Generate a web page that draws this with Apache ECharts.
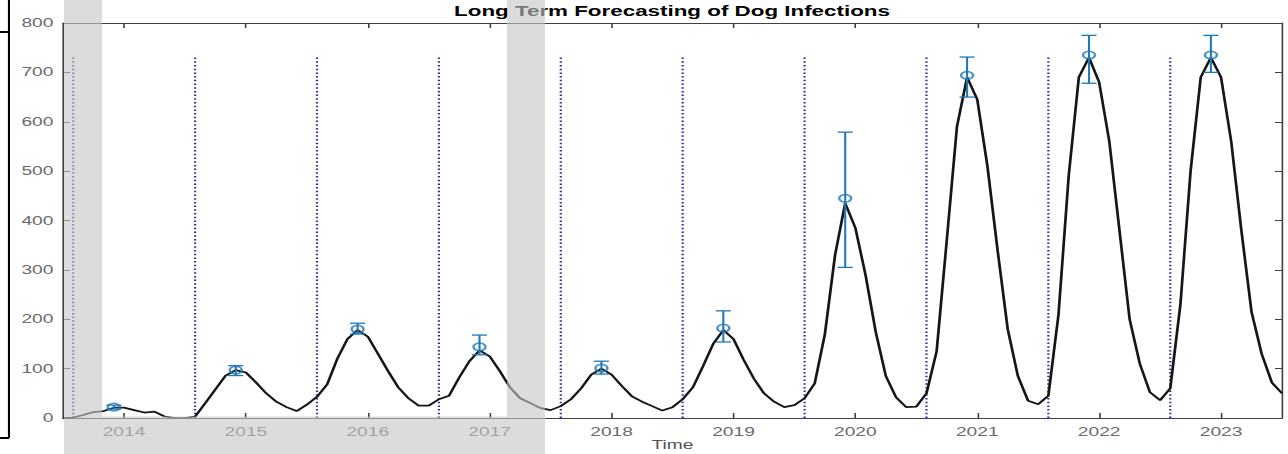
<!DOCTYPE html>
<html>
<head>
<meta charset="utf-8">
<script src="https://cdn.jsdelivr.net/npm/echarts@6/dist/echarts.min.js"></script>
<style>
  html, body { margin: 0; padding: 0; background: #fff; overflow: hidden; }
  /* the figure is laid out narrow and widened horizontally */
  #chart { width: 805px; height: 454px; transform: scaleX(1.6); transform-origin: 0 0; }
</style>
</head>
<body>
<div id="chart"></div>
<script>
// Monthly reported/forecast dog infections
const months = [
  '2013-07','2013-08','2013-09','2013-10','2013-11','2013-12',
  '2014-01','2014-02','2014-03','2014-04','2014-05','2014-06','2014-07','2014-08','2014-09','2014-10','2014-11','2014-12',
  '2015-01','2015-02','2015-03','2015-04','2015-05','2015-06','2015-07','2015-08','2015-09','2015-10','2015-11','2015-12',
  '2016-01','2016-02','2016-03','2016-04','2016-05','2016-06','2016-07','2016-08','2016-09','2016-10','2016-11','2016-12',
  '2017-01','2017-02','2017-03','2017-04','2017-05','2017-06','2017-07','2017-08','2017-09','2017-10','2017-11','2017-12',
  '2018-01','2018-02','2018-03','2018-04','2018-05','2018-06','2018-07','2018-08','2018-09','2018-10','2018-11','2018-12',
  '2019-01','2019-02','2019-03','2019-04','2019-05','2019-06','2019-07','2019-08','2019-09','2019-10','2019-11','2019-12',
  '2020-01','2020-02','2020-03','2020-04','2020-05','2020-06','2020-07','2020-08','2020-09','2020-10','2020-11','2020-12',
  '2021-01','2021-02','2021-03','2021-04','2021-05','2021-06','2021-07','2021-08','2021-09','2021-10','2021-11','2021-12',
  '2022-01','2022-02','2022-03','2022-04','2022-05','2022-06','2022-07','2022-08','2022-09','2022-10','2022-11','2022-12',
  '2023-01','2023-02','2023-03','2023-04','2023-05','2023-06','2023-07'
];
const cases = [
  0, 1, 6, 12, 14, 21,
  21, 16, 11, 13, 3, 0, 0, 3, 30, 58, 86, 97,
  92, 72, 50, 33, 22, 14, 27, 43, 68, 120, 160, 178,
  165, 130, 95, 62, 40, 25, 25, 38, 45, 82, 115, 137,
  125, 95, 62, 40, 30, 20, 16, 24, 38, 60, 88, 100,
  88, 65, 44, 33, 24, 15, 22, 38, 62, 105, 150, 178,
  160, 118, 80, 50, 33, 22, 26, 40, 70, 170, 330, 435,
  385, 290, 175, 85, 42, 22, 23, 50, 135, 360, 590, 690,
  645, 510, 340, 180, 85, 35, 28, 45, 210, 490, 690, 730,
  680, 560, 380, 200, 110, 52, 36, 60, 230, 500, 690, 730,
  690, 560, 380, 215, 130, 72, 50
];

// Seasonal peak estimates with their intervals
const peakMonths = ['2013-12','2014-12','2015-12','2016-12','2017-12','2018-12','2019-12','2020-12','2021-12','2022-12'];
const peakEstimate = [22, 97, 180, 144, 101, 182, 445, 694, 735, 735];
const peakLower    = [18, 86, 170, 128, 89, 154, 305, 650, 678, 700];
const peakUpper    = [26, 106, 192, 168, 115, 217, 579, 731, 775, 775];

// Start-of-season markers
const seasonStarts = ['2013-08','2014-08','2015-08','2016-08','2017-08','2018-08','2019-08','2020-08','2021-08','2022-08'];
const seasonMarkHeight = 730;

const yearTicks = [2014, 2015, 2016, 2017, 2018, 2019, 2020, 2021, 2022, 2023];

const toYear = s => { const p = s.split('-').map(Number); return p[0] + (p[1] - 1) / 12; };

const axisColor = '#404040';
const labelColor = '#6a6a6a';
const barColor = '#1f78b8';
const font = 'Liberation Sans, Arial, Helvetica, sans-serif';

const chart = echarts.init(document.getElementById('chart'), null, { renderer: 'svg', width: 805, height: 454 });

const xBase = {
  type: 'value', min: 2013.5, max: 2023.5,
  splitLine: { show: false },
  axisLine: { show: true, onZero: false, lineStyle: { color: axisColor, width: 1 } },
  axisTick: { show: true, inside: true, length: 5, customValues: yearTicks, lineStyle: { color: axisColor, width: 1 } }
};
const yBase = {
  type: 'value', min: 0, max: 800, interval: 100,
  splitLine: { show: false },
  axisLine: { show: true, lineStyle: { color: axisColor, width: 1 } },
  axisTick: { show: true, inside: true, length: 4.4, lineStyle: { color: axisColor, width: 1 } }
};

const seasonSeries = seasonStarts.map(m => ({
  type: 'line',
  data: [[toYear(m), 0], [toYear(m), seasonMarkHeight]],
  symbol: 'none',
  silent: true,
  lineStyle: { color: '#2f2fa0', width: 1.4, type: [1.5, 2.2] },
  z: 1
}));

const option = {
  animation: false,
  backgroundColor: '#ffffff',
  title: {
    text: 'Long Term Forecasting of Dog Infections',
    left: 420, top: 4, textAlign: 'center', padding: 0,
    textStyle: { fontFamily: font, fontSize: 14, fontWeight: 'bold', color: '#000' }
  },
  grid: { left: 39.4, right: 3.75, top: 23, bottom: 36, outerBoundsMode: 'none', containLabel: false },
  xAxis: [
    Object.assign({}, xBase, {
      position: 'bottom',
      name: 'Time', nameLocation: 'middle', nameGap: 27, nameMoveOverlap: false,
      nameTextStyle: { fontFamily: font, fontSize: 12, lineHeight: 13, verticalAlign: 'middle', color: '#555' },
      axisLabel: {
        show: true, margin: 8, customValues: yearTicks,
        fontFamily: font, fontSize: 12, color: labelColor,
        formatter: v => String(v)
      }
    }),
    Object.assign({}, xBase, { position: 'top', axisLabel: { show: false } })
  ],
  yAxis: [
    Object.assign({}, yBase, {
      position: 'left',
      axisLabel: { show: true, margin: 6, fontFamily: font, fontSize: 12, color: labelColor }
    }),
    Object.assign({}, yBase, { position: 'right', axisLabel: { show: false } })
  ],
  series: seasonSeries.concat([
    {
      type: 'line',
      data: months.map((m, i) => [toYear(m), cases[i]]),
      symbol: 'none',
      lineStyle: { color: '#161616', width: 1.7 },
      z: 3
    },
    {
      type: 'custom',
      data: peakMonths.map((m, i) => [toYear(m), peakLower[i], peakUpper[i]]),
      renderItem: (params, api) => {
        const lo = api.coord([api.value(0), api.value(1)]);
        const hi = api.coord([api.value(0), api.value(2)]);
        const hw = 4.7;
        const style = { stroke: barColor, lineWidth: 1.3 };
        return {
          type: 'group',
          children: [
            { type: 'line', shape: { x1: lo[0], y1: lo[1], x2: hi[0], y2: hi[1] }, style },
            { type: 'line', shape: { x1: lo[0] - hw, y1: lo[1], x2: lo[0] + hw, y2: lo[1] }, style },
            { type: 'line', shape: { x1: hi[0] - hw, y1: hi[1], x2: hi[0] + hw, y2: hi[1] }, style }
          ]
        };
      },
      z: 4
    },
    {
      type: 'scatter',
      data: peakMonths.map((m, i) => [toYear(m), peakEstimate[i]]),
      symbol: 'circle',
      symbolSize: 7.5,
      itemStyle: { color: 'rgba(0,0,0,0)', borderColor: barColor, borderWidth: 1.5 },
      z: 5
    }
  ]),
  graphic: [
    {
      type: 'polygon', z: 50, silent: true,
      shape: { points: [[40, 0], [63.75, 0], [63.75, 416.5], [316.9, 416.5], [316.9, 0], [340.6, 0], [340.6, 454], [40, 454]] },
      style: { fill: 'rgba(197,197,197,0.61)' }
    },
    { type: 'line', z: 60, shape: { x1: 5.6, y1: 0, x2: 5.6, y2: 438 }, style: { stroke: '#000', lineWidth: 1.3 } },
    { type: 'line', z: 60, shape: { x1: 0, y1: 32, x2: 5.6, y2: 32 }, style: { stroke: '#000', lineWidth: 2 } },
    { type: 'line', z: 60, shape: { x1: 0, y1: 438, x2: 5.6, y2: 438 }, style: { stroke: '#000', lineWidth: 2 } }
  ]
};

chart.setOption(option);
</script>
</body>
</html>
